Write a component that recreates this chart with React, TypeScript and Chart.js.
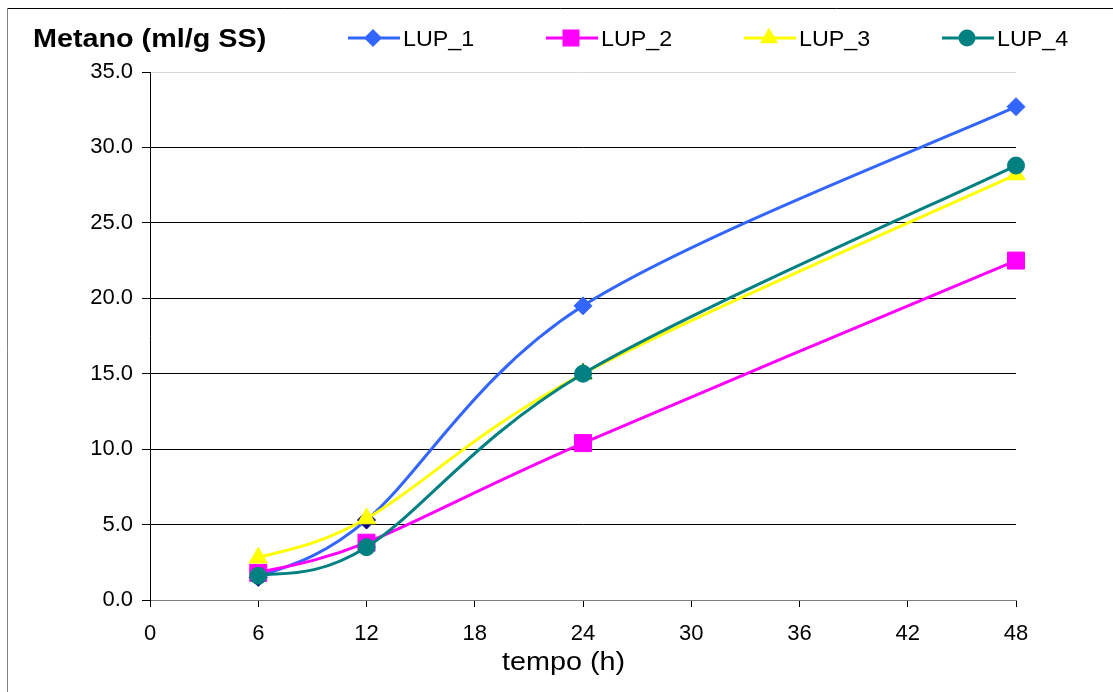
import React, { useEffect, useRef } from "react";
import { Chart, registerables } from "chart.js";

Chart.register(...registerables);

const hours = [6, 12, 24, 48];
const lup1 = [1.5, 5.3, 19.5, 32.7];
const lup2 = [1.8, 3.8, 10.4, 22.5];
const lup3 = [2.8, 5.4, 15.0, 28.2];
const lup4 = [1.6, 3.5, 15.0, 28.8];
const seriesNames = ["LUP_1", "LUP_2", "LUP_3", "LUP_4"];
const seriesColors = ["#3366FF", "#FF00FF", "#FFFF00", "#008080"];
const yTitle = "Metano (ml/g SS)";
const xTitle = "tempo (h)";
const xTicks = { min: 0, max: 48, step: 6 };
const yTicks = { min: 0, max: 35, step: 5 };

const FONT = '"Liberation Sans", Arial, sans-serif';

function drawMarker(ctx: CanvasRenderingContext2D, style: string, x: number, y: number, color: string) {
  ctx.save();
  ctx.fillStyle = color;
  ctx.beginPath();
  if (style === "rectRot") {
    const r = 9;
    ctx.moveTo(x, y - r);
    ctx.lineTo(x + r, y);
    ctx.lineTo(x, y + r);
    ctx.lineTo(x - r, y);
  } else if (style === "rect") {
    const h = 8.5;
    ctx.rect(x - h, y - h, 2 * h, 2 * h);
  } else if (style === "triangle") {
    const r = 10.5;
    ctx.moveTo(x, y - r);
    ctx.lineTo(x + r * 0.866, y + r * 0.5);
    ctx.lineTo(x - r * 0.866, y + r * 0.5);
  } else {
    ctx.arc(x, y, 8.5, 0, Math.PI * 2);
  }
  ctx.closePath();
  ctx.fill();
  ctx.restore();
}

// Excel-style smoothing: control points at P ± (P_next - P_prev) / 6
const excelSmooth = {
  id: "excelSmooth",
  beforeDatasetDraw(chart: any, args: any) {
    const line = args.meta.dataset;
    if (!line) return;
    const pts = line.points;
    const n = pts.length;
    for (let i = 0; i < n; i++) {
      const p = pts[i];
      const prev = pts[Math.max(0, i - 1)];
      const next = pts[Math.min(n - 1, i + 1)];
      const dx = (next.x - prev.x) / 6;
      const dy = (next.y - prev.y) / 6;
      p.cp1x = p.x - dx;
      p.cp1y = p.y - dy;
      p.cp2x = p.x + dx;
      p.cp2y = p.y + dy;
    }
    line._path = undefined;
  },
};

const decorPlugin = {
  id: "decor",
  afterDraw(chart: any) {
    const ctx: CanvasRenderingContext2D = chart.ctx;
    ctx.save();
    ctx.lineWidth = 1;
    ctx.strokeStyle = "#000";
    ctx.beginPath();
    ctx.moveTo(7.5, 8.5);
    ctx.lineTo(1113, 8.5);
    ctx.stroke();
    ctx.strokeStyle = "#808080";
    ctx.beginPath();
    ctx.moveTo(7.5, 8.5);
    ctx.lineTo(7.5, 692);
    ctx.stroke();

    ctx.fillStyle = "#000";
    ctx.textBaseline = "alphabetic";
    ctx.textAlign = "left";
    ctx.save();
    ctx.translate(33, 47);
    ctx.scale(1.15, 1);
    ctx.font = `bold 25px ${FONT}`;
    ctx.fillText(yTitle, 0, 0);
    ctx.restore();

    ctx.save();
    ctx.translate(502, 670);
    ctx.scale(1.15, 1);
    ctx.font = `25px ${FONT}`;
    ctx.fillText(xTitle, 0, 0);
    ctx.restore();

    const styles = ["rectRot", "rect", "triangle", "circle"];
    chart.data.datasets.forEach((ds: any, i: number) => {
      const x0 = 348 + 198 * i;
      const y = 38;
      ctx.strokeStyle = ds.borderColor;
      ctx.lineWidth = 3;
      ctx.beginPath();
      ctx.moveTo(x0, y);
      ctx.lineTo(x0 + 52, y);
      ctx.stroke();
      drawMarker(ctx, styles[i], x0 + 25, y, ds.borderColor);
      ctx.save();
      ctx.translate(x0 + 55, 46);
      ctx.scale(1.06, 1);
      ctx.fillStyle = "#000";
      ctx.font = `22px ${FONT}`;
      ctx.fillText(ds.label, 0, 0);
      ctx.restore();
    });
    ctx.restore();
  },
};

export default function App() {
  const ref = useRef<HTMLCanvasElement | null>(null);
  useEffect(() => {
    if (!ref.current) return;
    const mk = (
      i: number,
      data: number[],
      style: string,
      radius: number,
      fills: string[]
    ) => ({
      label: seriesNames[i],
      data: hours.map((h, k) => ({ x: h, y: data[k] })),
      borderColor: seriesColors[i],
      backgroundColor: seriesColors[i],
      pointBackgroundColor: fills,
      pointBorderColor: fills,
      pointBorderWidth: 1,
      pointStyle: style,
      pointRadius: radius,
      borderWidth: 3,
      tension: 0.3,
      order: 4 - i,
      clip: false as any,
      fill: false,
    });
    const chart = new Chart(ref.current, {
      type: "line",
      data: {
        datasets: [
          mk(0, lup1, "rectRot", 9, ["#000080", "#000080", "#3366FF", "#3366FF"]),
          mk(1, lup2, "rect", 12, ["#FF00FF", "#FF00FF", "#FF00FF", "#FF00FF"]),
          mk(2, lup3, "triangle", 10.5, ["#FFFF00", "#FFFF00", "#008000", "#FFFF00"]),
          mk(3, lup4, "circle", 8.5, ["#008080", "#008080", "#008080", "#008080"]),
        ] as any,
      },
      options: {
        animation: false,
        responsive: false,
        layout: { padding: { left: 0, top: 72, right: 97, bottom: 0 } },
        plugins: { legend: { display: false }, tooltip: { enabled: false }, title: { display: false } },
        scales: {
          x: {
            type: "linear",
            min: xTicks.min,
            max: xTicks.max,
            afterFit: (s: any) => {
              s.height = 92;
            },
            ticks: {
              stepSize: xTicks.step,
              color: "#000",
              padding: 14,
              font: { family: FONT, size: 22 },
            },
            grid: {
              drawOnChartArea: false,
              drawTicks: true,
              tickLength: 7,
              tickColor: "#000",
            },
            border: { display: true, color: "#808080", width: 1 },
          },
          y: {
            min: yTicks.min,
            max: yTicks.max,
            afterFit: (s: any) => {
              s.width = 150;
            },
            ticks: {
              stepSize: yTicks.step,
              color: "#000",
              padding: 9,
              font: { family: FONT, size: 22 },
              callback: (v: any) => Number(v).toFixed(1),
            },
            grid: {
              color: (c: any) =>
                c.tick && c.tick.value === 35 ? "#d9d9d9" : c.tick && c.tick.value === 0 ? "#808080" : "#000",
              tickColor: "#000",
              tickLength: 8,
              lineWidth: 1,
            },
            border: { display: true, color: "#000", width: 1 },
          },
        },
      },
      plugins: [excelSmooth, decorPlugin],
    });
    return () => chart.destroy();
  }, []);
  return (
    <div style={{ position: "absolute", left: 0, top: 0, width: 1113, height: 692, background: "#fff" }}>
      <canvas ref={ref} width={1113} height={692} style={{ display: "block" }} />
    </div>
  );
}
